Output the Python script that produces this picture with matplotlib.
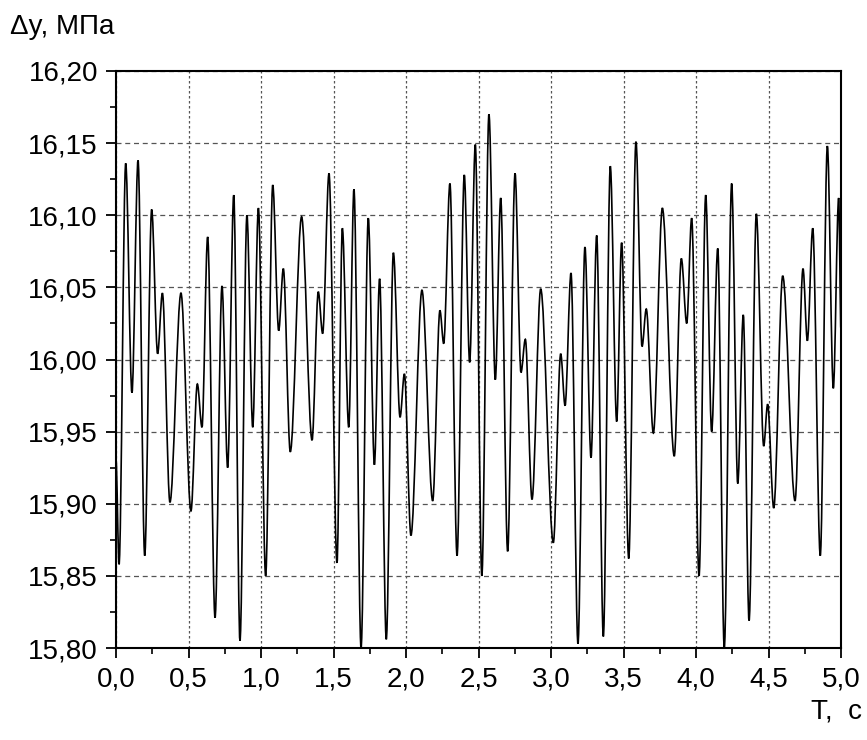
import matplotlib
matplotlib.use('Agg')
import matplotlib.pyplot as plt
import numpy as np
from matplotlib.path import Path
from matplotlib.patches import PathPatch
from matplotlib.ticker import MultipleLocator, FuncFormatter

plt.rcParams['font.family'] = ['Liberation Sans', 'DejaVu Sans']

# extrema of the signal
t = [0.0, 0.021, 0.067, 0.110, 0.152, 0.198, 0.246, 0.287, 0.320, 0.372,
     0.448, 0.517, 0.561, 0.593, 0.632, 0.683, 0.731, 0.770, 0.812, 0.855,
     0.903, 0.943, 0.982, 1.032, 1.081, 1.122, 1.154, 1.202, 1.280, 1.352,
     1.395, 1.425, 1.469, 1.524, 1.561, 1.605, 1.641, 1.690, 1.740, 1.782,
     1.818, 1.864, 1.913, 1.959, 1.989, 2.034, 2.110, 2.184, 2.234, 2.260,
     2.303, 2.352, 2.402, 2.439, 2.478, 2.523, 2.572, 2.616, 2.653, 2.701,
     2.752, 2.793, 2.823, 2.869, 2.929, 3.016, 3.067, 3.097, 3.138, 3.186,
     3.234, 3.276, 3.315, 3.361, 3.409, 3.453, 3.487, 3.536, 3.586, 3.628,
     3.657, 3.706, 3.768, 3.850, 3.899, 3.936, 3.970, 4.021, 4.067, 4.108,
     4.150, 4.195, 4.246, 4.288, 4.326, 4.366, 4.416, 4.467, 4.494, 4.536,
     4.598, 4.683, 4.738, 4.768, 4.805, 4.857, 4.906, 4.947, 4.984, 5.0]
dy = [15.93, 15.858, 16.136, 15.977, 16.138, 15.864, 16.104, 16.004, 16.046, 15.901,
      16.046, 15.895, 15.983, 15.953, 16.085, 15.821, 16.051, 15.925, 16.114, 15.805,
      16.100, 15.953, 16.105, 15.850, 16.121, 16.020, 16.063, 15.936, 16.099, 15.944,
      16.047, 16.018, 16.129, 15.859, 16.091, 15.953, 16.118, 15.800, 16.098, 15.927,
      16.056, 15.806, 16.074, 15.960, 15.990, 15.878, 16.048, 15.902, 16.034, 16.011,
      16.122, 15.864, 16.128, 15.998, 16.149, 15.850, 16.170, 15.986, 16.112, 15.867,
      16.129, 15.991, 16.014, 15.903, 16.049, 15.873, 16.004, 15.968, 16.060, 15.803,
      16.078, 15.932, 16.086, 15.808, 16.134, 15.957, 16.081, 15.862, 16.151, 16.009,
      16.035, 15.949, 16.105, 15.933, 16.070, 16.025, 16.098, 15.850, 16.114, 15.950,
      16.077, 15.800, 16.122, 15.914, 16.031, 15.819, 16.101, 15.940, 15.969, 15.897,
      16.058, 15.902, 16.063, 16.013, 16.091, 15.864, 16.148, 15.980, 16.112, 16.02]

fig = plt.figure(figsize=(8.67, 7.40), dpi=100)
ax = fig.add_axes([116 / 867, 1 - 648 / 740, 725 / 867, 577 / 740])

# smooth curve through the extrema (flat tangents at each turning point)
verts = [(t[0], dy[0])]
codes = [Path.MOVETO]
for i in range(1, len(t)):
    d = (t[i] - t[i - 1]) / 3
    verts += [(t[i - 1] + d, dy[i - 1]), (t[i] - d, dy[i]), (t[i], dy[i])]
    codes += [Path.CURVE4] * 3
ax.add_patch(PathPatch(Path(verts, codes), fill=False, edgecolor='black',
                       lw=1.2, transform=ax.transData, zorder=3))

ax.set_xlim(0, 5)
ax.set_ylim(15.80, 16.20)
ax.xaxis.set_major_locator(MultipleLocator(0.5))
ax.xaxis.set_minor_locator(MultipleLocator(0.25))
ax.yaxis.set_major_locator(MultipleLocator(0.05))
ax.yaxis.set_minor_locator(MultipleLocator(0.025))
ax.xaxis.set_major_formatter(FuncFormatter(lambda v, p: f'{v:.1f}'.replace('.', ',')))
ax.yaxis.set_major_formatter(FuncFormatter(lambda v, p: f'{v:.2f}'.replace('.', ',')))

ax.tick_params(which='major', direction='out', length=7, width=1.3, labelsize=20,
               colors='black', pad=6)
ax.tick_params(which='minor', direction='out', length=4, width=1.2)
for s in ax.spines.values():
    s.set_linewidth(1.5)

ax.yaxis.grid(True, which='major', linestyle=(0, (4, 3)), color='#555555', lw=0.9)
ax.xaxis.grid(True, which='major', linestyle=(0, (2, 2)), color='#555555', lw=0.9)
ax.set_axisbelow(True)

fig.text(10 / 867, 1 - 27 / 740, 'Δy, МПа', fontsize=20, va='center', ha='left')
fig.text(862 / 867, 1 - 712 / 740, 'T,  с', fontsize=20, va='center', ha='right')

fig.savefig('out.png', dpi=100)
